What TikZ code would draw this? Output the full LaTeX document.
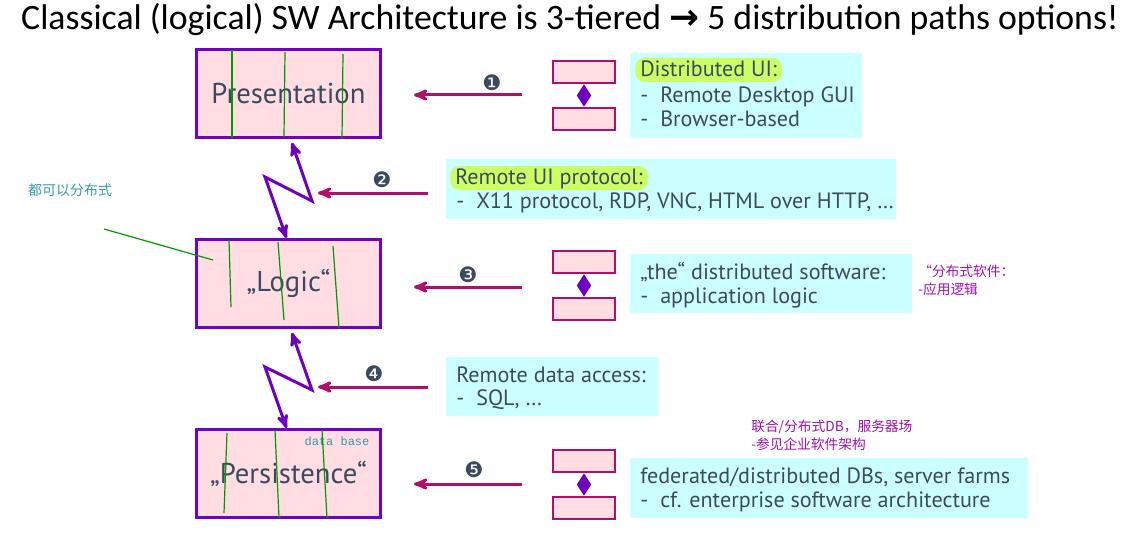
\documentclass[tikz,border=0pt]{standalone}
\usepackage{fontspec}
\setmainfont{Carlito}
\newfontfamily\boxfont{PT Sans}
\newfontfamily\symfont{DejaVu Sans}
\newfontfamily\cjk{Noto Sans CJK SC}
\newfontfamily\monofont{Liberation Mono}
\usepackage{xcolor}
\usepackage{tikz}
\usetikzlibrary{shapes}
\usetikzlibrary{shapes.geometric}
\usetikzlibrary{arrows}
\usetikzlibrary{positioning}
\definecolor{tierline}{HTML}{7000CC}
\definecolor{tierfill}{HTML}{FFDDE3}
\definecolor{arrowcol}{HTML}{B0106A}
\definecolor{linkcol}{HTML}{7000C0}
\definecolor{infofill}{HTML}{CCFFFF}
\definecolor{hlcol}{HTML}{CCFF66}
\definecolor{slate}{HTML}{3C4A60}
\definecolor{strokecol}{HTML}{009900}
\definecolor{tealcol}{HTML}{3A9AA8}
\definecolor{notecol}{HTML}{A010B0}
\newcommand{\dashitem}{\makebox[15pt][l]{-}}
\tikzset{
	title node/.style={anchor=base,inner sep=0pt,font=\fontsize{26.8}{26.8}\selectfont},
	tier node/.style={rectangle,draw=tierline,fill=tierfill,line width=2.25pt,
		minimum width=138pt,minimum height=66pt,text=slate,font=\boxfont\fontsize{21.5}{21.5}\selectfont},
	comp node/.style={rectangle,draw=arrowcol,fill=tierfill,line width=1.5pt,
		minimum width=46.5pt,minimum height=16.5pt,inner sep=0pt},
	link node/.style={diamond,fill=linkcol,inner sep=0pt,minimum width=11pt,minimum height=17pt},
	info box/.style={rectangle,fill=infofill,inner sep=0pt,anchor=north west},
	info line/.style={anchor=base west,inner sep=0pt,text=slate,font=\boxfont\fontsize{16.6}{18}\selectfont},
	hl box/.style={info line,fill=hlcol,rounded corners=7pt,inner xsep=3.75pt,inner ysep=0pt,
		text height=14.25pt,text depth=3.75pt},
	num node/.style={text=slate,inner sep=0pt,font=\symfont\fontsize{16}{16}\selectfont},
	num arrow/.style={->,draw=arrowcol,line width=2.25pt},
	zig/.style={<->,draw=linkcol,line width=2.25pt,line join=miter},
	stroke/.style={draw=strokecol,line width=0.9pt},
	cn note/.style={inner sep=0pt,align=left,font=\cjk\fontsize{10.3}{13}\selectfont}
}

\begin{document}
\begin{tikzpicture}[x=0.75pt,y=-0.75pt,>=stealth']
	\useasboundingbox (0,0) rectangle (1129,535);
	\node [title node] (title) at (570,30) {Classical (logical) SW Architecture is 3-tiered {\symfont\bfseries →} 5 distribution paths options!};

	\node [tier node] (pres) at (288.5,93.5) {Presentation};
	\node [tier node] (logic) at (288.5,283.5) {„Logic“};
	\node [tier node] (pers) at (288.5,473.5) {„Persistence“};
	\node [inner sep=0pt,text=tealcol,font=\monofont\fontsize{9}{9}\selectfont] (db) at (337,441) {data base};

	\draw [stroke] (232,50) -- (232,138);
	\draw [stroke] (285,52) -- (284,137);
	\draw [stroke] (343,54) -- (342,139);
	\draw [stroke] (229,240) -- (231,307);
	\draw [stroke] (278,242) -- (284,320);
	\draw [stroke] (333,246) -- (339,328);
	\draw [stroke] (227,433) -- (224,513);
	\draw [stroke] (275,430) -- (279,518);
	\draw [stroke] (322,430) -- (327,518);

	\coordinate (z1r) at (312,201);
	\coordinate (z1l) at (265,177);
	\coordinate (z2r) at (312,390);
	\coordinate (z2l) at (265,367);
	\draw [zig,shorten <=3pt] ([xshift=1.5pt]pres.south) -- (z1r) -- (z1l) -- ([xshift=-1.5pt]logic.north);
	\draw [zig,shorten <=3pt] ([xshift=1.5pt]logic.south) -- (z2r) -- (z2l) -- ([xshift=-1.5pt]pers.north);

	\node [comp node] (c1a) at (584,72) {};
	\node [comp node] (c1b) at (584,119) {};
	\node [link node] (l1) at (584,95.5) {};
	\node [comp node] (c2a) at (584,262) {};
	\node [comp node] (c2b) at (584,309) {};
	\node [link node] (l2) at (584,285.5) {};
	\node [comp node] (c3a) at (584,461) {};
	\node [comp node] (c3b) at (584,508) {};
	\node [link node] (l3) at (584,484.5) {};

	\coordinate (a1) at (522,95);
	\coordinate (a2) at (428,193);
	\coordinate (a3) at (522,287);
	\coordinate (a4) at (428,387);
	\coordinate (a5) at (522,484);
	\draw [num arrow,shorten >=24pt] (a1) -- (a1 -| pres.east);
	\draw [num arrow,shorten >=4.5pt] (a2) -- (a2 -| z1r);
	\draw [num arrow,shorten >=24pt] (a3) -- (a3 -| logic.east);
	\draw [num arrow,shorten >=4.5pt] (a4) -- (a4 -| z2r);
	\draw [num arrow,shorten >=24pt] (a5) -- (a5 -| pers.east);
	\node [num node] (n1) at (492,83) {❶};
	\node [num node] (n2) at (382,180) {❷};
	\node [num node] (n3) at (468,275) {❸};
	\node [num node] (n4) at (374,374) {❹};
	\node [num node] (n5) at (474,470) {❺};

	\node [info box,minimum width=174pt,minimum height=63.75pt] (b1) at (630,53) {};
	\node [hl box] (h1) at (635,77) {Distributed UI:};
	\node [info line] (t1a) at (640,103) {\dashitem Remote Desktop GUI};
	\node [info line] (t1b) at (640,127) {\dashitem Browser-based};

	\node [info box,minimum width=337.5pt,minimum height=45pt] (b2) at (446,159) {};
	\node [hl box] (h2) at (450,185) {Remote UI protocol:};
	\node [info line] (t2a) at (456,209) {\dashitem X11 protocol, RDP, VNC, HTML over HTTP, …};

	\node [info box,minimum width=211.5pt,minimum height=44.25pt] (b3) at (630,254) {};
	\node [info line] (t3a) at (640,279) {„the“ distributed software:};
	\node [info line] (t3b) at (640,303) {\dashitem application logic};

	\node [info box,minimum width=159pt,minimum height=44.25pt] (b4) at (446,357) {};
	\node [info line] (t4a) at (456,382) {Remote data access:};
	\node [info line] (t4b) at (456,405) {\dashitem SQL, …};

	\node [info box,minimum width=298.5pt,minimum height=45pt] (b5) at (630,458) {};
	\node [info line] (t5a) at (640,483) {federated/distributed DBs, server farms};
	\node [info line] (t5b) at (640,507) {\dashitem cf. enterprise software architecture};

	\node [cn note,text=tealcol,font=\cjk\fontsize{10.5}{13}\selectfont] (all) at (70,190) {都可以分布式};
	\coordinate (p1) at (104,229);
	\coordinate (p2) at (213,260);
	\draw [stroke] (p1) -- (p2);
	\node [cn note,text=notecol,anchor=north west] (sw) at (918,265) {“分布式软件：\\-应用逻辑};
	\node [cn note,text=notecol,anchor=north west] (fed) at (751,420) {联合/分布式DB，服务器场\\-参见企业软件架构};
\end{tikzpicture}
\end{document}
